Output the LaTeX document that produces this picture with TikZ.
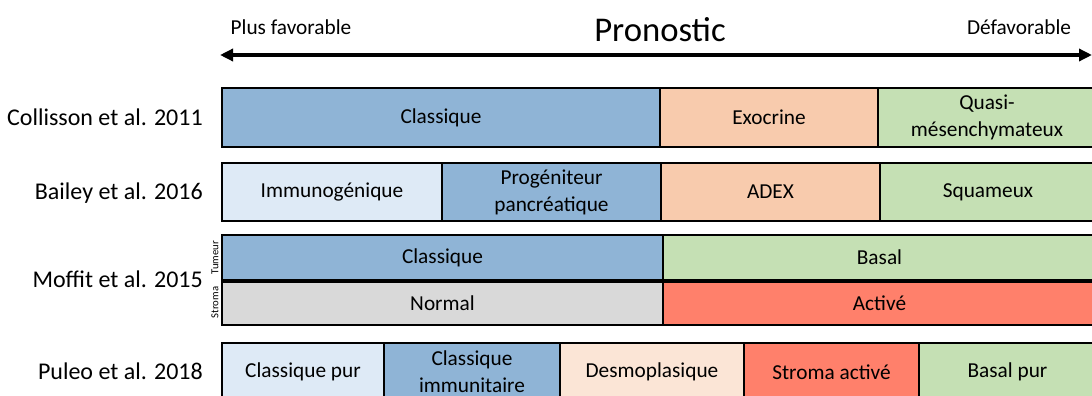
\documentclass[tikz,border=0pt]{standalone}
\usepackage{fontspec}
\setmainfont{Carlito}
\usetikzlibrary{arrows.meta}
\definecolor{bleu}{HTML}{8FB4D6}
\definecolor{bleuclair}{HTML}{DEEAF6}
\definecolor{peche}{HTML}{F8CBAD}
\definecolor{pecheclair}{HTML}{FBE5D6}
\definecolor{vert}{HTML}{C5E0B4}
\definecolor{rouge}{HTML}{FF806B}
\definecolor{gris}{HTML}{D9D9D9}
\tikzset{
  cell/.style={draw=black, line width=1.5pt, inner sep=0pt, align=center,
    font=\fontsize{21.3}{27}\selectfont, text=black},
  rowlab/.style={anchor=base east, inner sep=0pt, font=\fontsize{24}{28}\selectfont},
  endlab/.style={anchor=base, inner sep=0pt, font=\fontsize{21.3}{26}\selectfont},
  sidelab/.style={rotate=90, inner sep=0pt, font=\fontsize{10.7}{12}\selectfont},
  biarrow/.style={line width=3.5pt, {Triangle[length=13pt,width=12pt]}-{Triangle[length=13pt,width=12pt]}}
}
\begin{document}
\begin{tikzpicture}[x=1pt,y=-1pt]
\useasboundingbox (0,0) rectangle (1092,396);
\clip (0,0) rectangle (1092,396);
\fill[white] (0,0) rectangle (1092,396);
% header
\node[endlab] (plus) at (291,35) {Plus favorable};
\node[endlab] (defa) at (1019,35) {Défavorable};
\node[anchor=base, inner sep=0pt, font=\fontsize{34.7}{40}\selectfont] (prono) at (660,41.5) {Pronostic};
\coordinate (L) at (220,55);
\coordinate (R) at (1092,55);
\draw[biarrow] (L) -- (R);
% row labels
\node[rowlab] (lab1) at (203,125) {Collisson et al. 2011};
\node[rowlab] (lab2) at (203,199.5) {Bailey et al. 2016};
\node[rowlab] (lab3) at (203,287.5) {Moffit et al. 2015};
\node[rowlab] (lab4) at (203,379.5) {Puleo et al. 2018};
% Collisson: 88--147
\node[cell, fill=bleu, minimum width=438pt, minimum height=59pt] (c11) at (441,117.5) {Classique};
\node[cell, fill=peche, minimum width=218pt, minimum height=59pt] (c12) at (769,117.5) {Exocrine};
\node[cell, fill=vert, minimum width=218pt, minimum height=59pt] (c13) at (987,117.5) {Quasi-\\mésenchymateux};
% Bailey: 163--221
\node[cell, fill=bleuclair, minimum width=220pt, minimum height=58pt] (c21) at (332,192) {Immunogénique};
\node[cell, fill=bleu, minimum width=219pt, minimum height=58pt] (c22) at (551.5,192) {Progéniteur\\pancréatique};
\node[cell, fill=peche, minimum width=219pt, minimum height=58pt] (c23) at (770.5,192) {ADEX};
\node[cell, fill=vert, minimum width=216pt, minimum height=58pt] (c24) at (988,192) {Squameux};
% Moffit: 235--280 / 282--325
\node[cell, fill=bleu, minimum width=441pt, minimum height=45pt] (c31) at (442.5,257.5) {Classique};
\node[cell, fill=vert, minimum width=433pt, minimum height=45pt] (c32) at (879.5,257.5) {Basal};
\node[cell, fill=gris, minimum width=441pt, minimum height=43pt] (c41) at (442.5,303.5) {Normal};
\node[cell, fill=rouge, minimum width=433pt, minimum height=43pt] (c42) at (879.5,303.5) {Activé};
\node[sidelab] (tum) at (215,257.5) {Tumeur};
\node[sidelab] (str) at (215,302.5) {Stroma};
% Puleo: 343--401
\node[cell, fill=bleuclair, minimum width=162pt, minimum height=58pt] (c51) at (303,372) {Classique pur};
\node[cell, fill=bleu, minimum width=176pt, minimum height=58pt] (c52) at (472,372) {Classique\\immunitaire};
\node[cell, fill=pecheclair, minimum width=184pt, minimum height=58pt] (c53) at (652,372) {Desmoplasique};
\node[cell, fill=rouge, minimum width=175pt, minimum height=58pt] (c54) at (831.5,372) {Stroma activé};
\node[cell, fill=vert, minimum width=177pt, minimum height=58pt] (c55) at (1007.5,372) {Basal pur};
\end{tikzpicture}
\end{document}
